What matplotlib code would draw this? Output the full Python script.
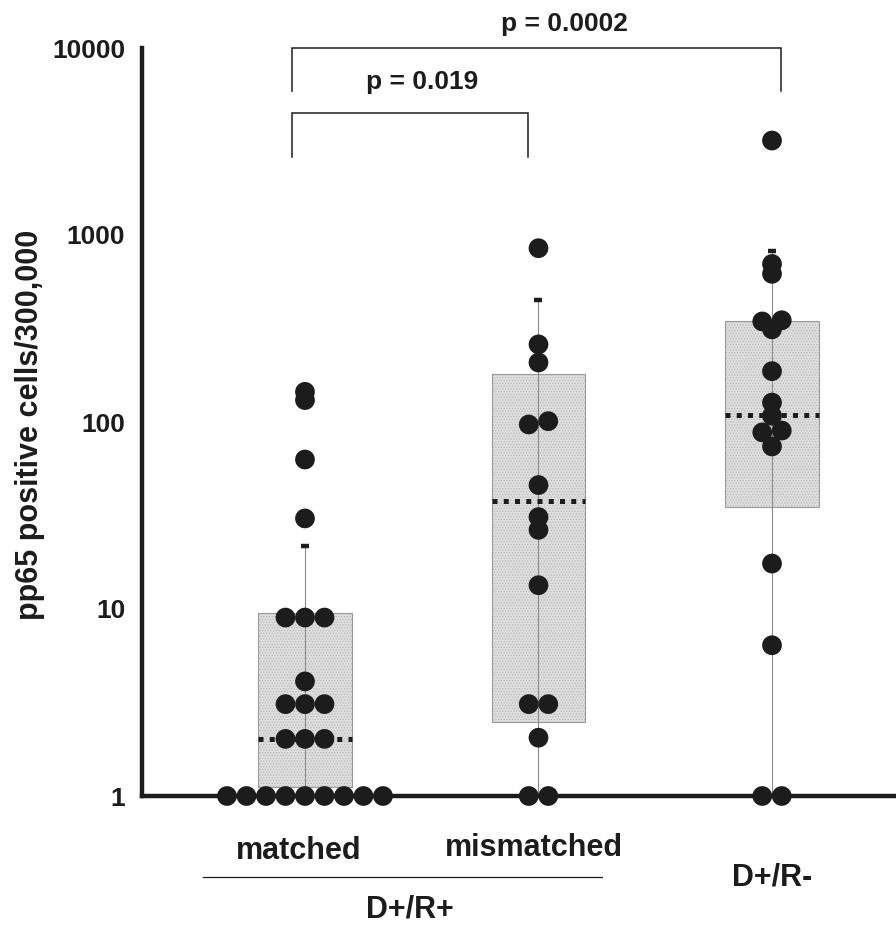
import numpy as np
import matplotlib
matplotlib.use("Agg")
import matplotlib.pyplot as plt
from matplotlib.lines import Line2D
import matplotlib.transforms as mtransforms

plt.rcParams['font.family'] = ['Liberation Sans', 'DejaVu Sans']
plt.rcParams['font.weight'] = 'bold'
plt.rcParams['hatch.linewidth'] = 0.6

# ---------------- data ----------------
categories = ['matched', 'mismatched', 'D+/R-']
group_label = 'D+/R+'

matched_vals = [145, 131, 63, 30.5, 9, 9, 9, 4.1, 3.1, 3.1, 3.1, 2.02, 2.02, 2.02,
                1, 1, 1, 1, 1, 1, 1, 1, 1]
mismatched_vals = [850, 260, 208, 97, 101, 46, 31, 26.5, 13.4, 3.1, 3.1, 2.05, 1, 1]
dr_vals = [3200, 700, 620, 350, 345, 313, 187, 127, 108, 90, 88, 74, 17.5, 6.4, 1, 1]

box_q1 = [1.12, 2.5, 35]
box_q3 = [9.5, 180, 347]
box_median = [2.02, 38, 109]
whisker_hi = [21.7, 450, 820]
whisker_lo = [1, 1, 1]

pvalues = ['p = 0.019', 'p = 0.0002']
yticks = [1, 10, 100, 1000, 10000]
ytick_labels = ['1', '10', '100', '1000', '10000']

series = [matched_vals, mismatched_vals, dr_vals]
positions = [1, 2, 3]

# ---------------- figure ----------------
W, H = 896, 925
fig = plt.figure(figsize=(W / 100, H / 100), dpi=100)
ax = fig.add_axes([142 / W, 1 - 796 / H, 1 - 142 / W, (796 - 48) / H])
ax.set_yscale('log')
ax.set_ylim(1, 10000)
ax.set_xlim(0.302, 3.531)

dark = '#1c1c1c'
box_w = 0.4
dot_dx = 0.0835

for i, (pos, vals) in enumerate(zip(positions, series)):
    # box fill with stipple
    ax.bar(pos, box_q3[i] - box_q1[i], bottom=box_q1[i], width=box_w,
           color='#dedede', edgecolor='#b8b8b8', linewidth=0, hatch='......', zorder=1)
    ax.bar(pos, box_q3[i] - box_q1[i], bottom=box_q1[i], width=box_w,
           fill=False, edgecolor='#9a9a9a', linewidth=0.8, zorder=1.5)
    # whisker line
    ax.plot([pos, pos], [whisker_lo[i], whisker_hi[i]], color='#8a8a8a', lw=0.8, zorder=2)
    ax.plot([pos], [whisker_hi[i]], marker='_', ms=6, mew=3.2, color=dark, zorder=2)
    # median dotted
    ax.plot([pos - box_w / 2, pos + box_w / 2], [box_median[i]] * 2, color=dark,
            lw=3.6, linestyle=(0, (1, 1.25)), solid_capstyle='butt',
            dash_capstyle='butt', zorder=3)
    # points: cluster near-equal values, spread symmetrically (lower value on the left)
    lv = np.sort(np.log10(vals))
    groups = []
    for v in lv:
        if groups and abs(groups[-1][-1] - v) < 0.025:
            groups[-1].append(v)
        else:
            groups.append([v])
    xs, ys = [], []
    for g in groups:
        n = len(g)
        for k, v in enumerate(g):
            xs.append(pos + (k - (n - 1) / 2) * dot_dx)
            ys.append(10 ** v)
    ax.scatter(xs, ys, s=14.2 ** 2, color=dark, edgecolors='none', zorder=4, clip_on=False)

# axes styling
for s in ['top', 'right']:
    ax.spines[s].set_visible(False)
for s in ['left', 'bottom']:
    ax.spines[s].set_linewidth(3.2)
    ax.spines[s].set_color(dark)
    ax.spines[s].set_zorder(3.5)
ax.set_yticks(yticks)
ax.set_yticklabels(ytick_labels)
ax.yaxis.set_minor_locator(matplotlib.ticker.NullLocator())
ax.tick_params(axis='y', length=0, pad=12, labelsize=19, labelcolor=dark)
ax.set_xticks([])
for lab in ax.get_yticklabels():
    lab.set_fontweight('bold')

# y label
fig.text(30 / W, 1 - 425 / H, 'pp65 positive cells/300,000', rotation=90,
         ha='center', va='center', fontsize=22, fontweight='bold', color=dark)

# category labels
trans = mtransforms.blended_transform_factory(ax.transData, fig.transFigure)
ax.text(positions[0] - 0.026, 1 - 859 / H, categories[0], transform=trans, ha='center',
        va='baseline', fontsize=22, fontweight='bold', color=dark)
ax.text(positions[1] - 0.021, 1 - 856 / H, categories[1], transform=trans, ha='center',
        va='baseline', fontsize=22, fontweight='bold', color=dark)
ax.text(positions[2], 1 - 885 / H, categories[2], transform=trans, ha='center',
        va='baseline', fontsize=22, fontweight='bold', color=dark)
ax.add_line(Line2D([0.563, 2.272], [1 - 877 / H] * 2, transform=trans, color=dark,
                   lw=0.9, clip_on=False))
ax.text(1.45, 1 - 918 / H, group_label, transform=trans, ha='center', va='baseline',
        fontsize=22, fontweight='bold', color=dark)

# significance brackets
def bracket(x0, x1, ytop, yleg, text, tx, ty):
    ax.plot([x0, x0, x1, x1], [yleg, ytop, ytop, yleg], color=dark, lw=1.1,
            clip_on=False, zorder=5, solid_joinstyle='miter')
    ax.text(tx, ty, text, ha='center', va='baseline', fontsize=19,
            fontweight='bold', color=dark, clip_on=False)

bracket(positions[0] - 0.056, positions[1] - 0.043, 4487, 2608, pvalues[0], 1.501, 6030)
bracket(positions[0] - 0.056, positions[2] + 0.04, 10000, 5888, pvalues[1], 2.113, 12340)

fig.savefig('out.png', dpi=100)
